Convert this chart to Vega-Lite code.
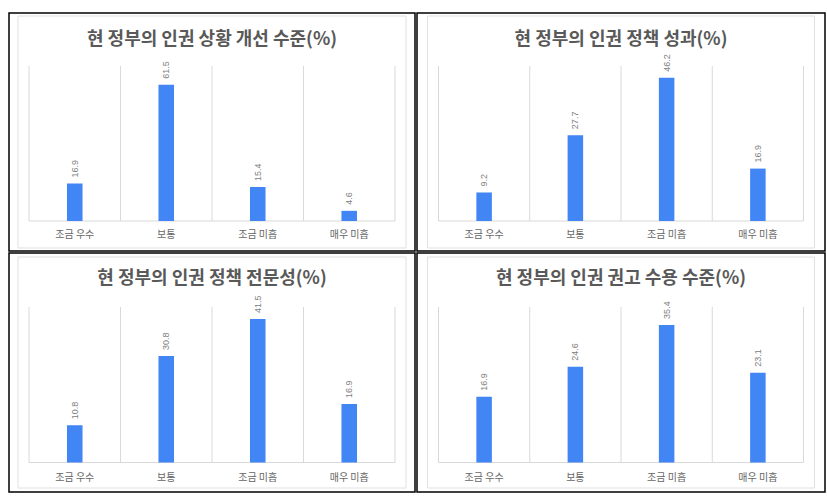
{
  "$schema": "https://vega.github.io/schema/vega-lite/v6.json",
  "padding": {"left": 8, "top": 12, "right": 0, "bottom": 0},
  "background": "white",
  "config": {
    "view": {"stroke": "#000000", "strokeWidth": 1.5},
    "concat": {"spacing": 0},
    "font": "Noto Sans CJK KR",
    "title": {"font": "Noto Sans CJK KR", "fontSize": 18, "fontWeight": "bold", "color": "#595959", "anchor": "middle", "baseline": "middle", "frame": "group"},
    "axisX": {"domain": false, "ticks": false, "grid": false, "labelAngle": 0, "labelPadding": 2, "labelFontSize": 10, "labelColor": "#666666", "labelFont": "Noto Sans CJK KR"}
  },
  "vconcat": [
    {
      "hconcat": [
        {
          "width": 406, "height": 238,
          "title": {"text": "현 정부의 인권 상황 개선 수준(%)", "offset": -36},
          "data": {"values": [{"cat": "조금 우수", "v": 16.9}, {"cat": "보통", "v": 61.5}, {"cat": "조금 미흡", "v": 15.4}, {"cat": "매우 미흡", "v": 4.6}]},
          "encoding": {"x": {"field": "cat", "type": "nominal", "scale": {"domain": ["조금 우수", "보통", "조금 미흡", "매우 미흡"], "paddingInner": 0, "paddingOuter": 0.2186}, "axis": {"orient": "bottom", "offset": -24, "title": null}}},
          "layer": [
            {"data": {"values": [{}]}, "mark": {"type": "rect", "fillOpacity": 0, "stroke": "#e0e0e0", "strokeWidth": 1},
             "encoding": {"x": {"datum": "조금 우수", "bandPosition": -0.12, "title": null}, "x2": {"datum": "매우 미흡", "bandPosition": 1.12}, "y": {"datum": 92.58, "axis": null}, "y2": {"datum": -12.19}}},
            {"mark": {"type": "rule", "color": "#d9d9d9"}, "encoding": {"x": {"field": "cat", "type": "nominal", "bandPosition": 0, "title": null}, "y": {"datum": 70, "axis": null}, "y2": {"datum": 0}}},
            {"data": {"values": [{}]}, "mark": {"type": "rule", "color": "#d9d9d9"}, "encoding": {"x": {"datum": "매우 미흡", "bandPosition": 1, "title": null}, "y": {"datum": 70, "axis": null}, "y2": {"datum": 0}}},
            {"data": {"values": [{}]}, "mark": {"type": "rule", "color": "#d9d9d9"}, "encoding": {"x": {"datum": "조금 우수", "bandPosition": 0, "title": null}, "x2": {"datum": "매우 미흡", "bandPosition": 1}, "y": {"datum": 0, "axis": null}}},
            {"mark": {"type": "bar", "color": "#4285F4", "width": {"band": 0.17}}, "encoding": {"y": {"field": "v", "type": "quantitative", "scale": {"domain": [-13.548, 93.935], "nice": false, "zero": false}, "axis": null}, "y2": {"datum": 0}}},
            {"mark": {"type": "text", "angle": 270, "align": "left", "baseline": "middle", "dx": 6, "fontSize": 9, "color": "#808080", "font": "Liberation Sans"}, "encoding": {"y": {"field": "v", "type": "quantitative", "axis": null}, "text": {"field": "v", "type": "quantitative", "format": ".1f"}}}
          ]
        },
        {
          "width": 408, "height": 238,
          "title": {"text": "현 정부의 인권 정책 성과(%)", "offset": -36},
          "data": {"values": [{"cat": "조금 우수", "v": 9.2}, {"cat": "보통", "v": 27.7}, {"cat": "조금 미흡", "v": 46.2}, {"cat": "매우 미흡", "v": 16.9}]},
          "encoding": {"x": {"field": "cat", "type": "nominal", "scale": {"domain": ["조금 우수", "보통", "조금 미흡", "매우 미흡"], "paddingInner": 0, "paddingOuter": 0.2355}, "axis": {"orient": "bottom", "offset": -24, "title": null}}},
          "layer": [
            {"data": {"values": [{}]}, "mark": {"type": "rect", "fillOpacity": 0, "stroke": "#e0e0e0", "strokeWidth": 1},
             "encoding": {"x": {"datum": "조금 우수", "bandPosition": -0.12, "title": null}, "x2": {"datum": "매우 미흡", "bandPosition": 1.12}, "y": {"datum": 66.13, "axis": null}, "y2": {"datum": -8.71}}},
            {"mark": {"type": "rule", "color": "#d9d9d9"}, "encoding": {"x": {"field": "cat", "type": "nominal", "bandPosition": 0, "title": null}, "y": {"datum": 50, "axis": null}, "y2": {"datum": 0}}},
            {"data": {"values": [{}]}, "mark": {"type": "rule", "color": "#d9d9d9"}, "encoding": {"x": {"datum": "매우 미흡", "bandPosition": 1, "title": null}, "y": {"datum": 50, "axis": null}, "y2": {"datum": 0}}},
            {"data": {"values": [{}]}, "mark": {"type": "rule", "color": "#d9d9d9"}, "encoding": {"x": {"datum": "조금 우수", "bandPosition": 0, "title": null}, "x2": {"datum": "매우 미흡", "bandPosition": 1}, "y": {"datum": 0, "axis": null}}},
            {"mark": {"type": "bar", "color": "#4285F4", "width": {"band": 0.17}}, "encoding": {"y": {"field": "v", "type": "quantitative", "scale": {"domain": [-9.677, 67.097], "nice": false, "zero": false}, "axis": null}, "y2": {"datum": 0}}},
            {"mark": {"type": "text", "angle": 270, "align": "left", "baseline": "middle", "dx": 6, "fontSize": 9, "color": "#808080", "font": "Liberation Sans"}, "encoding": {"y": {"field": "v", "type": "quantitative", "axis": null}, "text": {"field": "v", "type": "quantitative", "format": ".1f"}}}
          ]
        }
      ]
    },
    {
      "hconcat": [
        {
          "width": 406, "height": 239,
          "title": {"text": "현 정부의 인권 정책 전문성(%)", "offset": -35},
          "data": {"values": [{"cat": "조금 우수", "v": 10.8}, {"cat": "보통", "v": 30.8}, {"cat": "조금 미흡", "v": 41.5}, {"cat": "매우 미흡", "v": 16.9}]},
          "encoding": {"x": {"field": "cat", "type": "nominal", "scale": {"domain": ["조금 우수", "보통", "조금 미흡", "매우 미흡"], "paddingInner": 0, "paddingOuter": 0.2186}, "axis": {"orient": "bottom", "offset": -22, "title": null}}},
          "layer": [
            {"data": {"values": [{}]}, "mark": {"type": "rect", "fillOpacity": 0, "stroke": "#e0e0e0", "strokeWidth": 1},
             "encoding": {"x": {"datum": "조금 우수", "bandPosition": -0.12, "title": null}, "x2": {"datum": "매우 미흡", "bandPosition": 1.12}, "y": {"datum": 59.47, "axis": null}, "y2": {"datum": -7.38}}},
            {"mark": {"type": "rule", "color": "#d9d9d9"}, "encoding": {"x": {"field": "cat", "type": "nominal", "bandPosition": 0, "title": null}, "y": {"datum": 45, "axis": null}, "y2": {"datum": 0}}},
            {"data": {"values": [{}]}, "mark": {"type": "rule", "color": "#d9d9d9"}, "encoding": {"x": {"datum": "매우 미흡", "bandPosition": 1, "title": null}, "y": {"datum": 45, "axis": null}, "y2": {"datum": 0}}},
            {"data": {"values": [{}]}, "mark": {"type": "rule", "color": "#d9d9d9"}, "encoding": {"x": {"datum": "조금 우수", "bandPosition": 0, "title": null}, "x2": {"datum": "매우 미흡", "bandPosition": 1}, "y": {"datum": 0, "axis": null}}},
            {"mark": {"type": "bar", "color": "#4285F4", "width": {"band": 0.17}}, "encoding": {"y": {"field": "v", "type": "quantitative", "scale": {"domain": [-8.537, 60.627], "nice": false, "zero": false}, "axis": null}, "y2": {"datum": 0}}},
            {"mark": {"type": "text", "angle": 270, "align": "left", "baseline": "middle", "dx": 6, "fontSize": 9, "color": "#808080", "font": "Liberation Sans"}, "encoding": {"y": {"field": "v", "type": "quantitative", "axis": null}, "text": {"field": "v", "type": "quantitative", "format": ".1f"}}}
          ]
        },
        {
          "width": 408, "height": 239,
          "title": {"text": "현 정부의 인권 권고 수용 수준(%)", "offset": -35},
          "data": {"values": [{"cat": "조금 우수", "v": 16.9}, {"cat": "보통", "v": 24.6}, {"cat": "조금 미흡", "v": 35.4}, {"cat": "매우 미흡", "v": 23.1}]},
          "encoding": {"x": {"field": "cat", "type": "nominal", "scale": {"domain": ["조금 우수", "보통", "조금 미흡", "매우 미흡"], "paddingInner": 0, "paddingOuter": 0.2355}, "axis": {"orient": "bottom", "offset": -22, "title": null}}},
          "layer": [
            {"data": {"values": [{}]}, "mark": {"type": "rect", "fillOpacity": 0, "stroke": "#e0e0e0", "strokeWidth": 1},
             "encoding": {"x": {"datum": "조금 우수", "bandPosition": -0.12, "title": null}, "x2": {"datum": "매우 미흡", "bandPosition": 1.12}, "y": {"datum": 52.86, "axis": null}, "y2": {"datum": -6.56}}},
            {"mark": {"type": "rule", "color": "#d9d9d9"}, "encoding": {"x": {"field": "cat", "type": "nominal", "bandPosition": 0, "title": null}, "y": {"datum": 40, "axis": null}, "y2": {"datum": 0}}},
            {"data": {"values": [{}]}, "mark": {"type": "rule", "color": "#d9d9d9"}, "encoding": {"x": {"datum": "매우 미흡", "bandPosition": 1, "title": null}, "y": {"datum": 40, "axis": null}, "y2": {"datum": 0}}},
            {"data": {"values": [{}]}, "mark": {"type": "rule", "color": "#d9d9d9"}, "encoding": {"x": {"datum": "조금 우수", "bandPosition": 0, "title": null}, "x2": {"datum": "매우 미흡", "bandPosition": 1}, "y": {"datum": 0, "axis": null}}},
            {"mark": {"type": "bar", "color": "#4285F4", "width": {"band": 0.17}}, "encoding": {"y": {"field": "v", "type": "quantitative", "scale": {"domain": [-7.588, 53.891], "nice": false, "zero": false}, "axis": null}, "y2": {"datum": 0}}},
            {"mark": {"type": "text", "angle": 270, "align": "left", "baseline": "middle", "dx": 6, "fontSize": 9, "color": "#808080", "font": "Liberation Sans"}, "encoding": {"y": {"field": "v", "type": "quantitative", "axis": null}, "text": {"field": "v", "type": "quantitative", "format": ".1f"}}}
          ]
        }
      ]
    }
  ]
}
